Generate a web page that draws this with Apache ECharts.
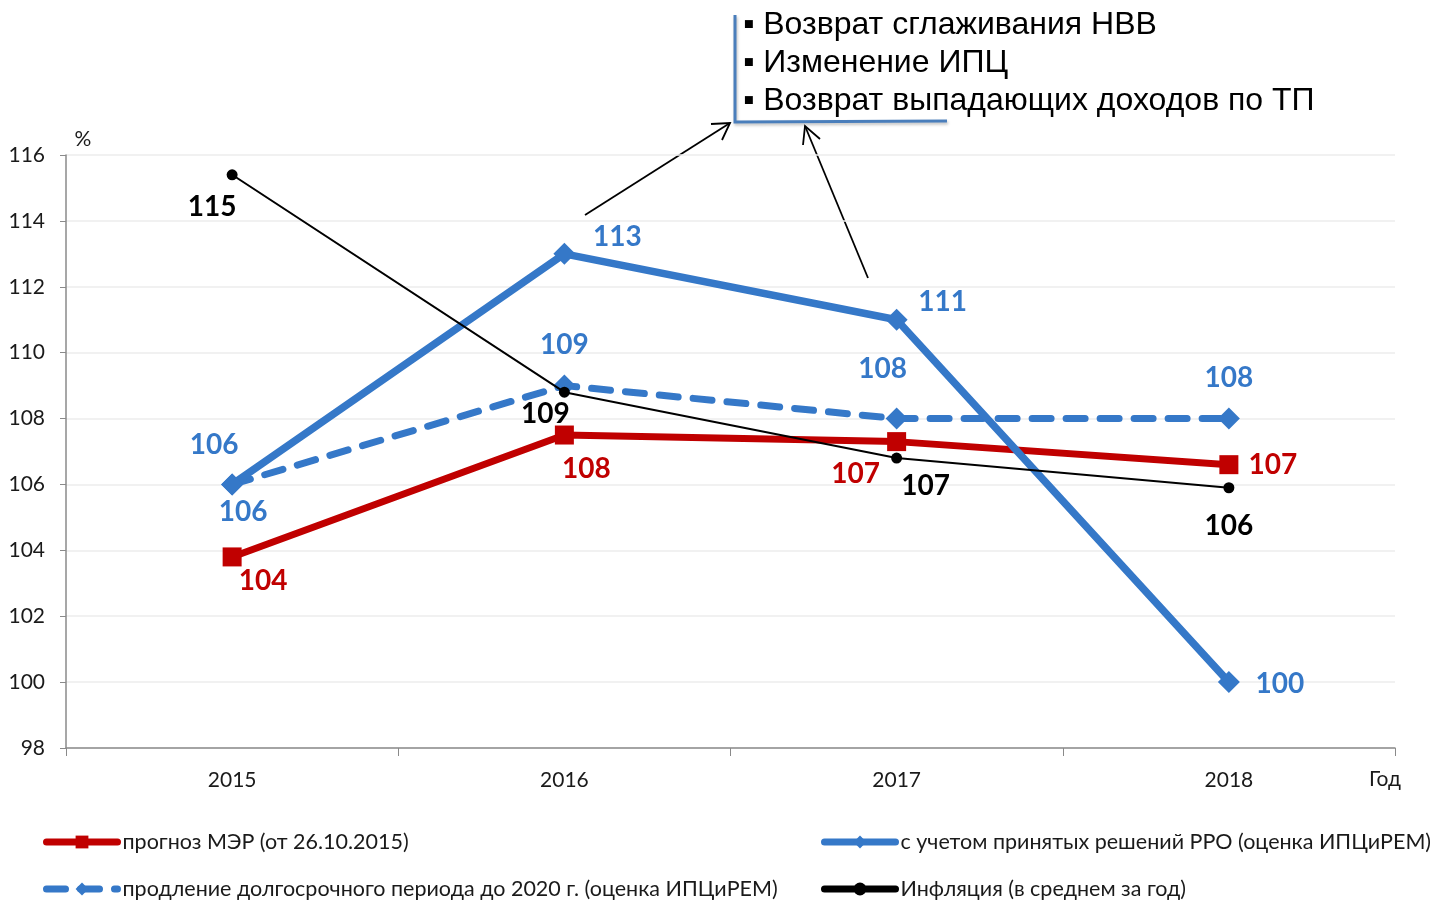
<!DOCTYPE html>
<html><head><meta charset="utf-8">
<script src="https://cdn.jsdelivr.net/npm/echarts@6/dist/echarts.min.js"></script>
<style>html,body{margin:0;padding:0;background:#fff}#c{width:1436px;height:901px}</style>
</head><body><div id="c"></div>
<script>
var years = ['2015', '2016', '2017', '2018'];
var yTicks = [98, 100, 102, 104, 106, 108, 110, 112, 114, 116];
var merForecast = [103.8, 107.5, 107.3, 106.6];
var rroDecisions = [106, 113, 111, 100];
var extension2020 = [106, 109, 108, 108];
var inflation = [115.4, 108.8, 106.8, 105.9];
var seriesNames = ['прогноз МЭР (от 26.10.2015)', 'с учетом принятых решений РРО (оценка ИПЦиРЕМ)', 'продление долгосрочного периода до 2020 г. (оценка ИПЦиРЕМ)', 'Инфляция (в среднем за год)'];
var noteLines = ['▪ Возврат сглаживания НВВ', '▪ Изменение ИПЦ', '▪ Возврат выпадающих доходов по ТП'];

// label offsets (style only)
var offMer = [[31, 24], [22, 34], [-41, 32], [44, 0]];
var offRro = [[-18, -39], [53, -17], [46, -18], [51, 2]];
var offExt = [[11, 28], [0, -41], [-14, -50], [0, -41]];
var offInf = [[-20, 32], [-19, 22], [29, 28], [0, 38]];

var RED = '#C00000', BLUE = '#3578C8', BLK = '#000000';
var FONT = 'Lato, "Open Sans", sans-serif';
var TXT = '#1a1a1a';

function items(vals, offs) {
  return vals.map(function (v, i) {
    return { value: v, label: { offset: offs[i] } };
  });
}
function lbl(color) {
  return { show: true, position: 'inside', color: color, fontFamily: FONT, fontWeight: 'bold', fontSize: 28,
    formatter: function (p) { return Math.round(p.value); } };
}

var chart = echarts.init(document.getElementById('c'));
function lg(name, left, top) {
  return { data: [name], left: left, top: top, padding: 0, orient: 'horizontal',
    itemWidth: 71, itemHeight: 16, itemGap: 4,
    lineStyle: { width: 7, cap: 'round' },
    textStyle: { fontFamily: FONT, fontSize: 21.5, color: TXT } };
}

chart.setOption({
  animation: false,
  grid: { left: 66, right: 41, top: 155, bottom: 153 },
  legend: [
    lg(seriesNames[0], 43, 831),
    lg(seriesNames[1], 821, 831),
    lg(seriesNames[2], 43, 878),
    lg(seriesNames[3], 821, 878)
  ],
  xAxis: {
    type: 'category', data: years, boundaryGap: true,
    name: 'Год', nameLocation: 'end', nameGap: -10,
    nameTextStyle: { fontFamily: FONT, fontSize: 21, color: TXT, align: 'center', verticalAlign: 'top', padding: [21, 0, 0, 0] },
    axisLine: { lineStyle: { color: '#8a8a8a', width: 1.5 } },
    axisTick: { show: true, alignWithLabel: false, length: 8, lineStyle: { color: '#8a8a8a' } },
    axisLabel: { fontFamily: FONT, fontSize: 21, color: TXT, margin: 22 }
  },
  yAxis: {
    type: 'value', min: yTicks[0], max: yTicks[yTicks.length - 1], interval: 2,
    name: '%', nameLocation: 'end', nameGap: 5,
    nameTextStyle: { fontFamily: FONT, fontSize: 21, color: TXT, align: 'center', padding: [0, 0, 0, 34] },
    axisLine: { show: true, lineStyle: { color: '#8a8a8a', width: 1.5 } },
    axisTick: { show: true, length: 6, lineStyle: { color: '#8a8a8a' } },
    axisLabel: { fontFamily: FONT, fontSize: 21, color: TXT, margin: 21 },
    splitLine: { show: true, lineStyle: { color: '#ececec', width: 1.5 } }
  },
  series: [
    { name: seriesNames[0], type: 'line', data: items(merForecast, offMer), color: RED,
      symbol: 'rect', symbolSize: 19, lineStyle: { width: 7, color: RED }, itemStyle: { color: RED },
      label: lbl(RED), z: 3 },
    { name: seriesNames[1], type: 'line', data: items(rroDecisions, offRro), color: BLUE,
      symbol: 'diamond', symbolSize: 22, lineStyle: { width: 7.5, color: BLUE }, itemStyle: { color: BLUE },
      label: lbl(BLUE), z: 4 },
    { name: seriesNames[2], type: 'line', data: items(extension2020, offExt), color: BLUE,
      symbol: 'diamond', symbolSize: 22, lineStyle: { width: 7, color: BLUE, type: [19, 15], cap: 'round' }, itemStyle: { color: BLUE },
      label: lbl(BLUE), z: 3 },
    { name: seriesNames[3], type: 'line', data: items(inflation, offInf), color: BLK,
      symbol: 'circle', symbolSize: 11, lineStyle: { width: 2, color: BLK }, itemStyle: { color: BLK },
      label: lbl(BLK), z: 5 }
  ],
  graphic: [
    { type: 'polyline', shape: { points: [[735, 15], [735, 122], [947, 121]] },
      style: { stroke: '#4a7ebb', lineWidth: 3, fill: null, shadowBlur: 3, shadowColor: 'rgba(0,0,0,0.25)', shadowOffsetX: 1, shadowOffsetY: 2 } },
    { type: 'text', x: 743, y: 25, style: { text: noteLines[0], font: '32px "Liberation Sans", Arial, sans-serif', fill: '#000', verticalAlign: 'middle' } },
    { type: 'text', x: 743, y: 63, style: { text: noteLines[1], font: '32px "Liberation Sans", Arial, sans-serif', fill: '#000', verticalAlign: 'middle' } },
    { type: 'text', x: 743, y: 101, style: { text: noteLines[2], font: '32px "Liberation Sans", Arial, sans-serif', fill: '#000', verticalAlign: 'middle' } },
    { type: 'line', shape: { x1: 585, y1: 215, x2: 730, y2: 123 }, style: { stroke: '#000', lineWidth: 1.8 } },
    { type: 'polyline', shape: { points: [[711, 124], [730, 123], [722, 140]] }, style: { stroke: '#000', lineWidth: 1.8, fill: null } },
    { type: 'line', shape: { x1: 868, y1: 278, x2: 805, y2: 126 }, style: { stroke: '#000', lineWidth: 1.8 } },
    { type: 'polyline', shape: { points: [[803, 145], [805, 126], [820, 139]] }, style: { stroke: '#000', lineWidth: 1.8, fill: null } }
  ]
});
</script></body></html>
